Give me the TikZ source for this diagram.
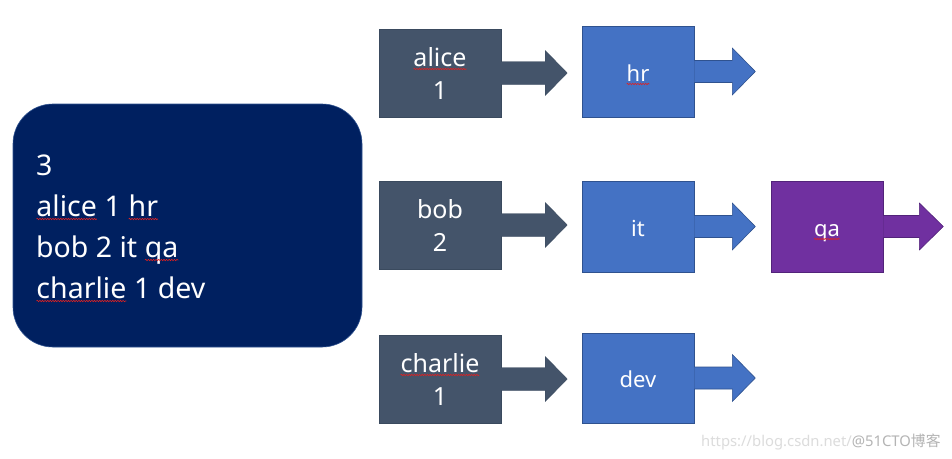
\documentclass[tikz,border=0pt]{standalone}
\usepackage{fontspec}
\setmainfont{Noto Sans}
\newfontfamily\cjkfont{Noto Sans CJK SC}
\usetikzlibrary{decorations.pathmorphing}
\definecolor{spellred}{HTML}{E02020}
\definecolor{navy}{HTML}{002060}
\definecolor{slate}{HTML}{44546A}
\definecolor{slateedge}{HTML}{3A4A5E}
\definecolor{obblue}{HTML}{4472C4}
\definecolor{blueedge}{HTML}{2F528F}
\definecolor{obpurple}{HTML}{7030A0}
\definecolor{purpleedge}{HTML}{52237A}
\newcommand\sq[1]{\tikz[baseline=(w.base), sharp corners]{\node[inner sep=0pt, outer sep=0pt,
    minimum width=0pt, minimum height=0pt, text height=, text depth=, draw=none, fill=none, anchor=base] (w) {#1};
  \draw[spellred, line width=0.6pt, decorate, decoration={snake, amplitude=0.7pt, segment length=2.6pt}]
    ([yshift=-3pt]w.base west) -- ([yshift=-3pt]w.base east);}}
\tikzset{
  x=1pt, y=-1pt,
  bigbox/.style={fill=navy, draw=blueedge, line width=0.6pt, rounded corners=40pt,
    minimum width=349pt, minimum height=243pt, inner sep=0pt},
  bigtext/.style={anchor=base west, text=white, inner sep=0pt,
    font=\fontsize{28.5}{41}\selectfont},
  namebox/.style={fill=slate, draw=slateedge, line width=0.4pt, minimum width=122pt,
    minimum height=88pt, inner sep=0pt, text=white, align=center,
    font=\fontsize{25}{33}\selectfont},
  deptbox/.style={fill=obblue, draw=blueedge, line width=0.6pt, minimum width=112pt,
    minimum height=91pt, inner sep=0pt, text=white, text height=19pt, text depth=0pt,
    font=\fontsize{22}{28}\selectfont},
  qabox/.style={deptbox, fill=obpurple, draw=purpleedge},
  slatearrow/.style={fill=slate, draw=slateedge, line width=0.4pt},
  bluearrow/.style={fill=obblue, draw=blueedge, line width=0.6pt},
  purplearrow/.style={fill=obpurple, draw=purpleedge, line width=0.6pt},
}
\begin{document}
\begin{tikzpicture}
\useasboundingbox[fill=white] (0,0) rectangle (952,458);

% big input box
\node[bigbox] (input) at (187.5,225.5) {};
\node[bigtext] (l1) at (36,175) {3};
\node[bigtext] (l2) at (36,216) {\sq{alice} 1 \sq{hr}};
\node[bigtext] (l3) at (36,257) {bob 2 it \sq{qa}};
\node[bigtext] (l4) at (36,298) {\sq{charlie} 1 dev};

% name boxes
\node[namebox] (alice) at (440,73) {\sq{alice}\\1};
\node[namebox] (bob) at (440,225) {bob\\2};
\node[namebox] (charlie) at (440,379) {\sq{charlie}\\1};

% department boxes
\node[deptbox] (hr) at (638,71.5) {\sq{hr}};
\node[deptbox] (it) at (638,226.5) {it};
\node[deptbox, minimum height=90pt] (dev) at (638,378) {dev};
\node[qabox] (qa) at (827,226.5) {\sq{qa}};

% block arrows (name boxes)
\foreach \n in {alice,bob,charlie}{
  \path[slatearrow] ([yshift=-11.5pt]\n.east) -- ++(44,0) -- ++(0,11) -- ++(22,-22.5)
    -- ++(-22,-22.5) -- ++(0,11) -- ([yshift=11.5pt]\n.east);
}
% block arrows (department boxes)
\foreach \n in {hr,it,dev}{
  \path[bluearrow] ([yshift=-11pt]\n.east) -- ++(38,0) -- ++(0,12.5) -- ++(23,-23.5)
    -- ++(-23,-23.5) -- ++(0,12.5) -- ([yshift=11pt]\n.east);
}
\path[purplearrow] ([yshift=-11pt]qa.east) -- ++(36,0) -- ++(0,12.5) -- ++(24,-23.5)
    -- ++(-24,-23.5) -- ++(0,12.5) -- ([yshift=11pt]qa.east);

% watermark
\node[anchor=base west, inner sep=0pt, font=\fontsize{14.8}{15}\selectfont] (wm) at (701,446)
  {\textcolor[HTML]{DCDCDC}{https://blog.csdn.net/}\textcolor[HTML]{B4B4B4}{@51CTO{\cjkfont 博客}}};
\end{tikzpicture}
\end{document}
